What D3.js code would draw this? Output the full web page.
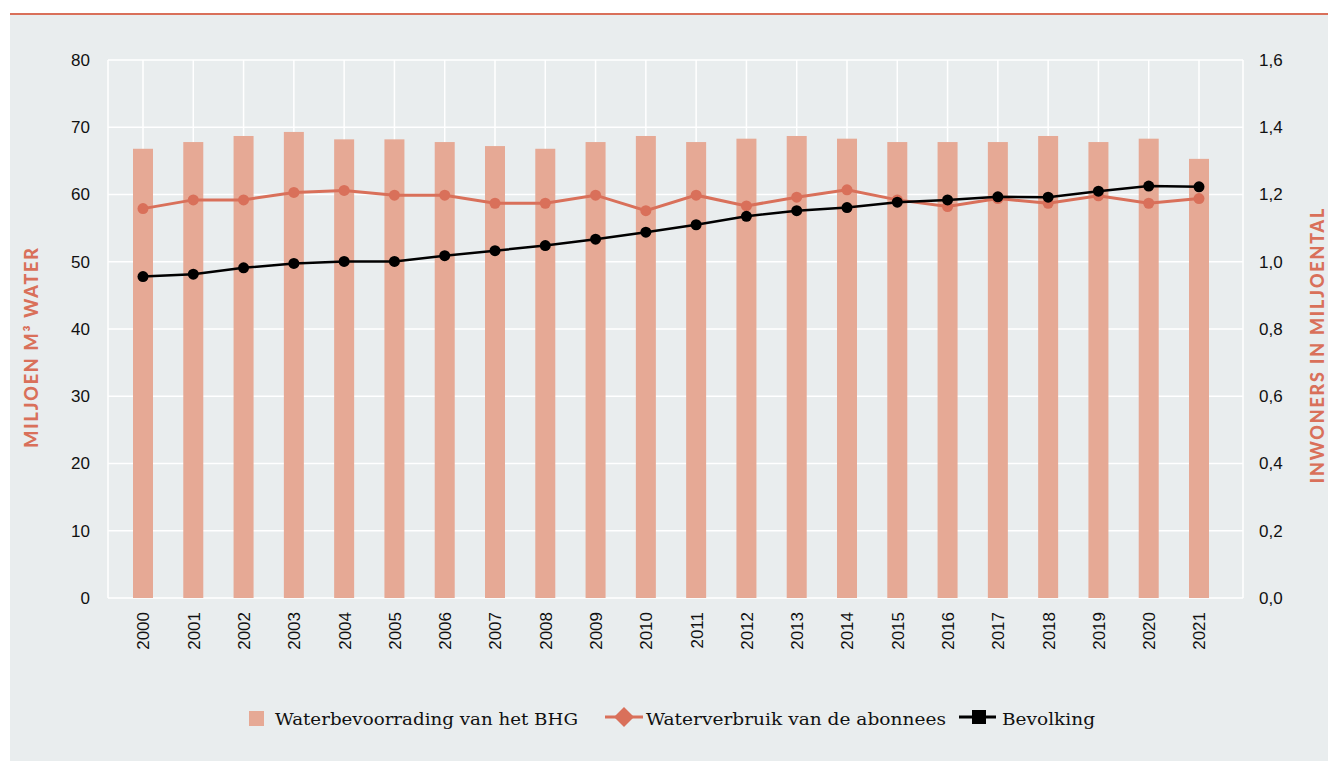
<!DOCTYPE html>
<meta charset="utf-8">
<html>
<head>
<title>Water en bevolking</title>
<style>
  body { margin: 0; background: #fff; }
  svg { display: block; }
</style>
</head>
<body>
<svg width="1328" height="761"></svg>
<script src="https://cdnjs.cloudflare.com/ajax/libs/d3/7.8.5/d3.min.js"></script>
<script>
// data
var years = [2000, 2001, 2002, 2003, 2004, 2005, 2006, 2007, 2008, 2009, 2010,
             2011, 2012, 2013, 2014, 2015, 2016, 2017, 2018, 2019, 2020, 2021];
var supply = [66.8, 67.8, 68.7, 69.3, 68.2, 68.2, 67.8, 67.2, 66.8, 67.8, 68.7,
              67.8, 68.3, 68.7, 68.3, 67.8, 67.8, 67.8, 68.7, 67.8, 68.3, 65.3];
var consumption = [57.9, 59.2, 59.2, 60.3, 60.6, 59.9, 59.9, 58.7, 58.7, 59.9, 57.6,
                   59.9, 58.3, 59.6, 60.7, 59.2, 58.2, 59.4, 58.7, 59.8, 58.7, 59.4];
var population = [0.956, 0.963, 0.982, 0.995, 1.001, 1.001, 1.018, 1.033, 1.048, 1.067, 1.088,
                  1.110, 1.135, 1.152, 1.161, 1.177, 1.184, 1.193, 1.192, 1.210, 1.225, 1.223];
var leftTicks = [0, 10, 20, 30, 40, 50, 60, 70, 80];
var rightTicks = [0, 0.2, 0.4, 0.6, 0.8, 1.0, 1.2, 1.4, 1.6];
var legendLabels = ["Waterbevoorrading van het BHG", "Waterverbruik van de abonnees", "Bevolking"];

var orange = "#d9705a", barColor = "#e6a995", panel = "#e9edee";

var svg = d3.select("svg");

// panel + top rule
svg.append("rect").attr("x", 10).attr("y", 15).attr("width", 1318).attr("height", 746).attr("fill", panel);
svg.append("line").attr("x1", 10).attr("x2", 1328).attr("y1", 14).attr("y2", 14)
  .attr("stroke", orange).attr("stroke-width", 2);

var plot = {left: 108, right: 1243, top: 60, bottom: 598};

var x = d3.scalePoint().domain(years).range([143, 1199]);
var yL = d3.scaleLinear().domain([0, 80]).range([plot.bottom, plot.top]);
var yR = d3.scaleLinear().domain([0, 1.6]).range([plot.bottom, plot.top]);

var g = svg.append("g");

// grid
g.selectAll(".hgrid").data(leftTicks).enter().append("line")
  .attr("x1", plot.left).attr("x2", plot.right)
  .attr("y1", function(d) { return yL(d); }).attr("y2", function(d) { return yL(d); })
  .attr("stroke", "#fff").attr("stroke-width", 1.5);
g.selectAll(".vgrid").data(years).enter().append("line")
  .attr("x1", function(d) { return x(d); }).attr("x2", function(d) { return x(d); })
  .attr("y1", plot.top).attr("y2", plot.bottom)
  .attr("stroke", "#fff").attr("stroke-width", 1.5);
[plot.left, plot.right].forEach(function(px) {
  g.append("line").attr("x1", px).attr("x2", px).attr("y1", plot.top).attr("y2", plot.bottom)
    .attr("stroke", "#fff").attr("stroke-width", 1.5);
});

// bars
var barW = 20;
g.selectAll(".bar").data(years).enter().append("rect")
  .attr("x", function(d) { return x(d) - barW / 2; })
  .attr("y", function(d, i) { return yL(supply[i]); })
  .attr("width", barW)
  .attr("height", function(d, i) { return yL(0) - yL(supply[i]); })
  .attr("fill", barColor);

// consumption line
var lineL = d3.line().x(function(d, i) { return x(years[i]); }).y(function(d) { return yL(d); });
g.append("path").datum(consumption).attr("d", lineL)
  .attr("fill", "none").attr("stroke", orange).attr("stroke-width", 3);
g.selectAll(".cdot").data(consumption).enter().append("circle")
  .attr("cx", function(d, i) { return x(years[i]); }).attr("cy", function(d) { return yL(d); })
  .attr("r", 5.5).attr("fill", orange);

// population line
var lineR = d3.line().x(function(d, i) { return x(years[i]); }).y(function(d) { return yR(d); });
g.append("path").datum(population).attr("d", lineR)
  .attr("fill", "none").attr("stroke", "#000").attr("stroke-width", 2.5);
g.selectAll(".pdot").data(population).enter().append("circle")
  .attr("cx", function(d, i) { return x(years[i]); }).attr("cy", function(d) { return yR(d); })
  .attr("r", 5.5).attr("fill", "#000");

// axes
var tickFont = "'Liberation Sans', Arial, sans-serif";
var axL = svg.append("g").attr("transform", "translate(" + 90 + ",0)")
  .call(d3.axisLeft(yL).tickValues(leftTicks).tickSize(0).tickPadding(0));
var axR = svg.append("g").attr("transform", "translate(" + 1259 + ",0)")
  .call(d3.axisRight(yR).tickValues(rightTicks).tickSize(0).tickPadding(0)
    .tickFormat(function(d) { return d3.format(".1f")(d).replace(".", ","); }));
var axX = svg.append("g").attr("transform", "translate(0," + 612 + ")")
  .call(d3.axisBottom(x).tickSize(0).tickPadding(0));
[axL, axR, axX].forEach(function(a) {
  a.select(".domain").remove();
  a.selectAll("text").attr("font-family", tickFont).attr("font-size", 17).attr("fill", "#111");
});
axX.selectAll("text")
  .attr("transform", "rotate(-90)")
  .attr("text-anchor", "end").attr("dy", "0.35em").attr("x", 0).attr("y", 0);

// axis titles
var titleFont = "Lato, 'Open Sans', sans-serif";
svg.append("text").attr("transform", "translate(38,347) rotate(-90)")
  .attr("text-anchor", "middle").attr("font-family", titleFont).attr("font-weight", 900)
  .attr("font-size", 18).attr("letter-spacing", 1.8).attr("fill", orange)
  .text("MILJOEN M³ WATER");
svg.append("text").attr("transform", "translate(1324,345) rotate(-90)")
  .attr("text-anchor", "middle").attr("font-family", titleFont).attr("font-weight", 900)
  .attr("font-size", 18).attr("letter-spacing", 1.8).attr("fill", orange)
  .text("INWONERS IN MILJOENTAL");

// legend
var legFont = "'DejaVu Serif', 'Liberation Serif', serif";
var leg = svg.append("g").attr("font-family", legFont).attr("font-size", 17).attr("fill", "#111");
leg.append("rect").attr("x", 249).attr("y", 711).attr("width", 15).attr("height", 15).attr("fill", barColor);
leg.append("text").attr("x", 275).attr("y", 725).attr("textLength", 303)
  .attr("lengthAdjust", "spacingAndGlyphs").text(legendLabels[0]);
leg.append("line").attr("x1", 605).attr("x2", 643).attr("y1", 717).attr("y2", 717)
  .attr("stroke", orange).attr("stroke-width", 3);
leg.append("path").attr("d", d3.symbol(d3.symbolSquare, 200)())
  .attr("transform", "translate(624,717) rotate(45)").attr("fill", orange);
leg.append("text").attr("x", 646).attr("y", 725).attr("textLength", 300)
  .attr("lengthAdjust", "spacingAndGlyphs").text(legendLabels[1]);
leg.append("line").attr("x1", 959).attr("x2", 996).attr("y1", 717).attr("y2", 717)
  .attr("stroke", "#000").attr("stroke-width", 3);
leg.append("rect").attr("x", 972).attr("y", 710).attr("width", 14).attr("height", 14).attr("fill", "#000");
leg.append("text").attr("x", 1002).attr("y", 725).attr("textLength", 93)
  .attr("lengthAdjust", "spacingAndGlyphs").text(legendLabels[2]);
</script>
</body>
</html>
